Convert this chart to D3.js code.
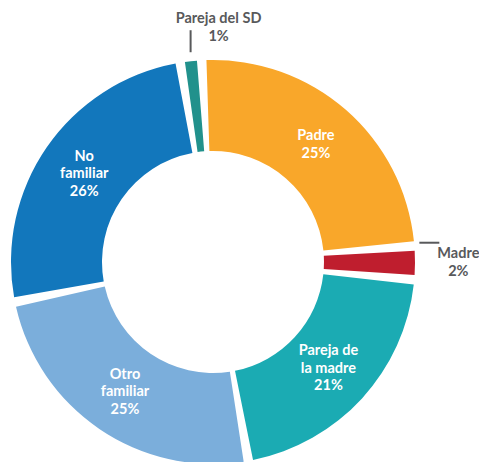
<!DOCTYPE html>
<html>
<head>
<meta charset="utf-8">
<script src="https://cdn.jsdelivr.net/npm/d3@7"></script>
<style>
  html, body { margin: 0; padding: 0; background: #ffffff; }
  svg { display: block; }
</style>
</head>
<body>
<svg id="chart" width="479" height="462"></svg>
<script>
// ---- Data ----
const categories = ["Padre", "Madre", "Pareja de la madre", "Otro familiar", "No familiar", "Pareja del SD"];
const labelLines = [["Padre"], ["Madre"], ["Pareja de", "la madre"], ["Otro", "familiar"], ["No", "familiar"], ["Pareja del SD"]];
const values = [25, 2, 21, 25, 26, 1];
const colors = ["#F9A72A", "#BF1E2E", "#1BABB3", "#7BAEDB", "#1277BC", "#21918C"];
const outside = [false, true, false, false, false, true];

// ---- Layout ----
const cx = 213, cy = 262;
const rOuter = 202, rInner = 111;
const pad = 0.047;
const startAngle = -0.056;

const svg = d3.select("#chart");
const g = svg.append("g").attr("transform", `translate(${cx},${cy})`);

const data = categories.map((c, i) => ({ name: c, lines: labelLines[i], value: values[i], color: colors[i], outside: outside[i] }));

const pie = d3.pie()
  .sort(null)
  .value(d => d.value)
  .startAngle(startAngle)
  .endAngle(startAngle + 2 * Math.PI)
  .padAngle(pad);

const arcs = pie(data);

const arc = d3.arc()
  .innerRadius(rInner)
  .outerRadius(rOuter)
  .startAngle(d => d.startAngle + d.padAngle / 2)
  .endAngle(d => d.endAngle - d.padAngle / 2)
  .padAngle(0);

g.selectAll("path.slice")
  .data(arcs)
  .enter().append("path")
  .attr("class", "slice")
  .attr("d", arc)
  .attr("fill", d => d.data.color);

const fontFamily = "Lato, 'Open Sans', sans-serif";
const fontSize = 14.5;
const lineH = 17.5;

function addLine(x, y, txt, fill) {
  g.append("text")
    .attr("x", x).attr("y", y)
    .attr("text-anchor", "middle")
    .attr("font-family", fontFamily)
    .attr("font-weight", 700)
    .attr("font-size", fontSize)
    .attr("fill", fill)
    .text(txt);
}

// inside labels
arcs.filter(d => !d.data.outside).forEach(d => {
  const [x, y] = arc.centroid(d);
  const lines = d.data.lines.concat([d.data.value + "%"]);
  const y0 = y - (lines.length - 1) * lineH / 2 + 5;
  lines.forEach((ln, i) => addLine(x, y0 + i * lineH, ln, "#ffffff"));
});

// outside labels
const grey = "#58595B";
arcs.filter(d => d.data.outside).forEach(d => {
  const lines = d.data.lines.concat([d.data.value + "%"]);
  const mid = (d.startAngle + d.endAngle) / 2;
  if (mid > Math.PI / 4 && mid < 3 * Math.PI / 4) {
    // right side: horizontal leader from the slice's upper edge
    const a = d.startAngle;
    const px = (rOuter + 3) * Math.sin(a);
    const py = -(rOuter + 3) * Math.cos(a) - 3;
    g.append("line")
      .attr("x1", px + 2).attr("x2", px + 22)
      .attr("y1", py).attr("y2", py)
      .attr("stroke", grey).attr("stroke-width", 2);
    const tx = px + 41;
    lines.forEach((ln, i) => addLine(tx, py + 15 + i * 18, ln, grey));
  } else {
    // top: vertical leader above the slice
    const px = (rOuter + 3) * Math.sin(mid);
    const pyTop = -(rOuter + 3) * Math.cos(mid);
    g.append("line")
      .attr("x1", px).attr("x2", px)
      .attr("y1", pyTop - 6).attr("y2", pyTop - 28)
      .attr("stroke", grey).attr("stroke-width", 2);
    const tx = px + 28;
    lines.forEach((ln, i) => addLine(tx, pyTop - 35 + i * 18, ln, grey));
  }
});
</script>
</body>
</html>
